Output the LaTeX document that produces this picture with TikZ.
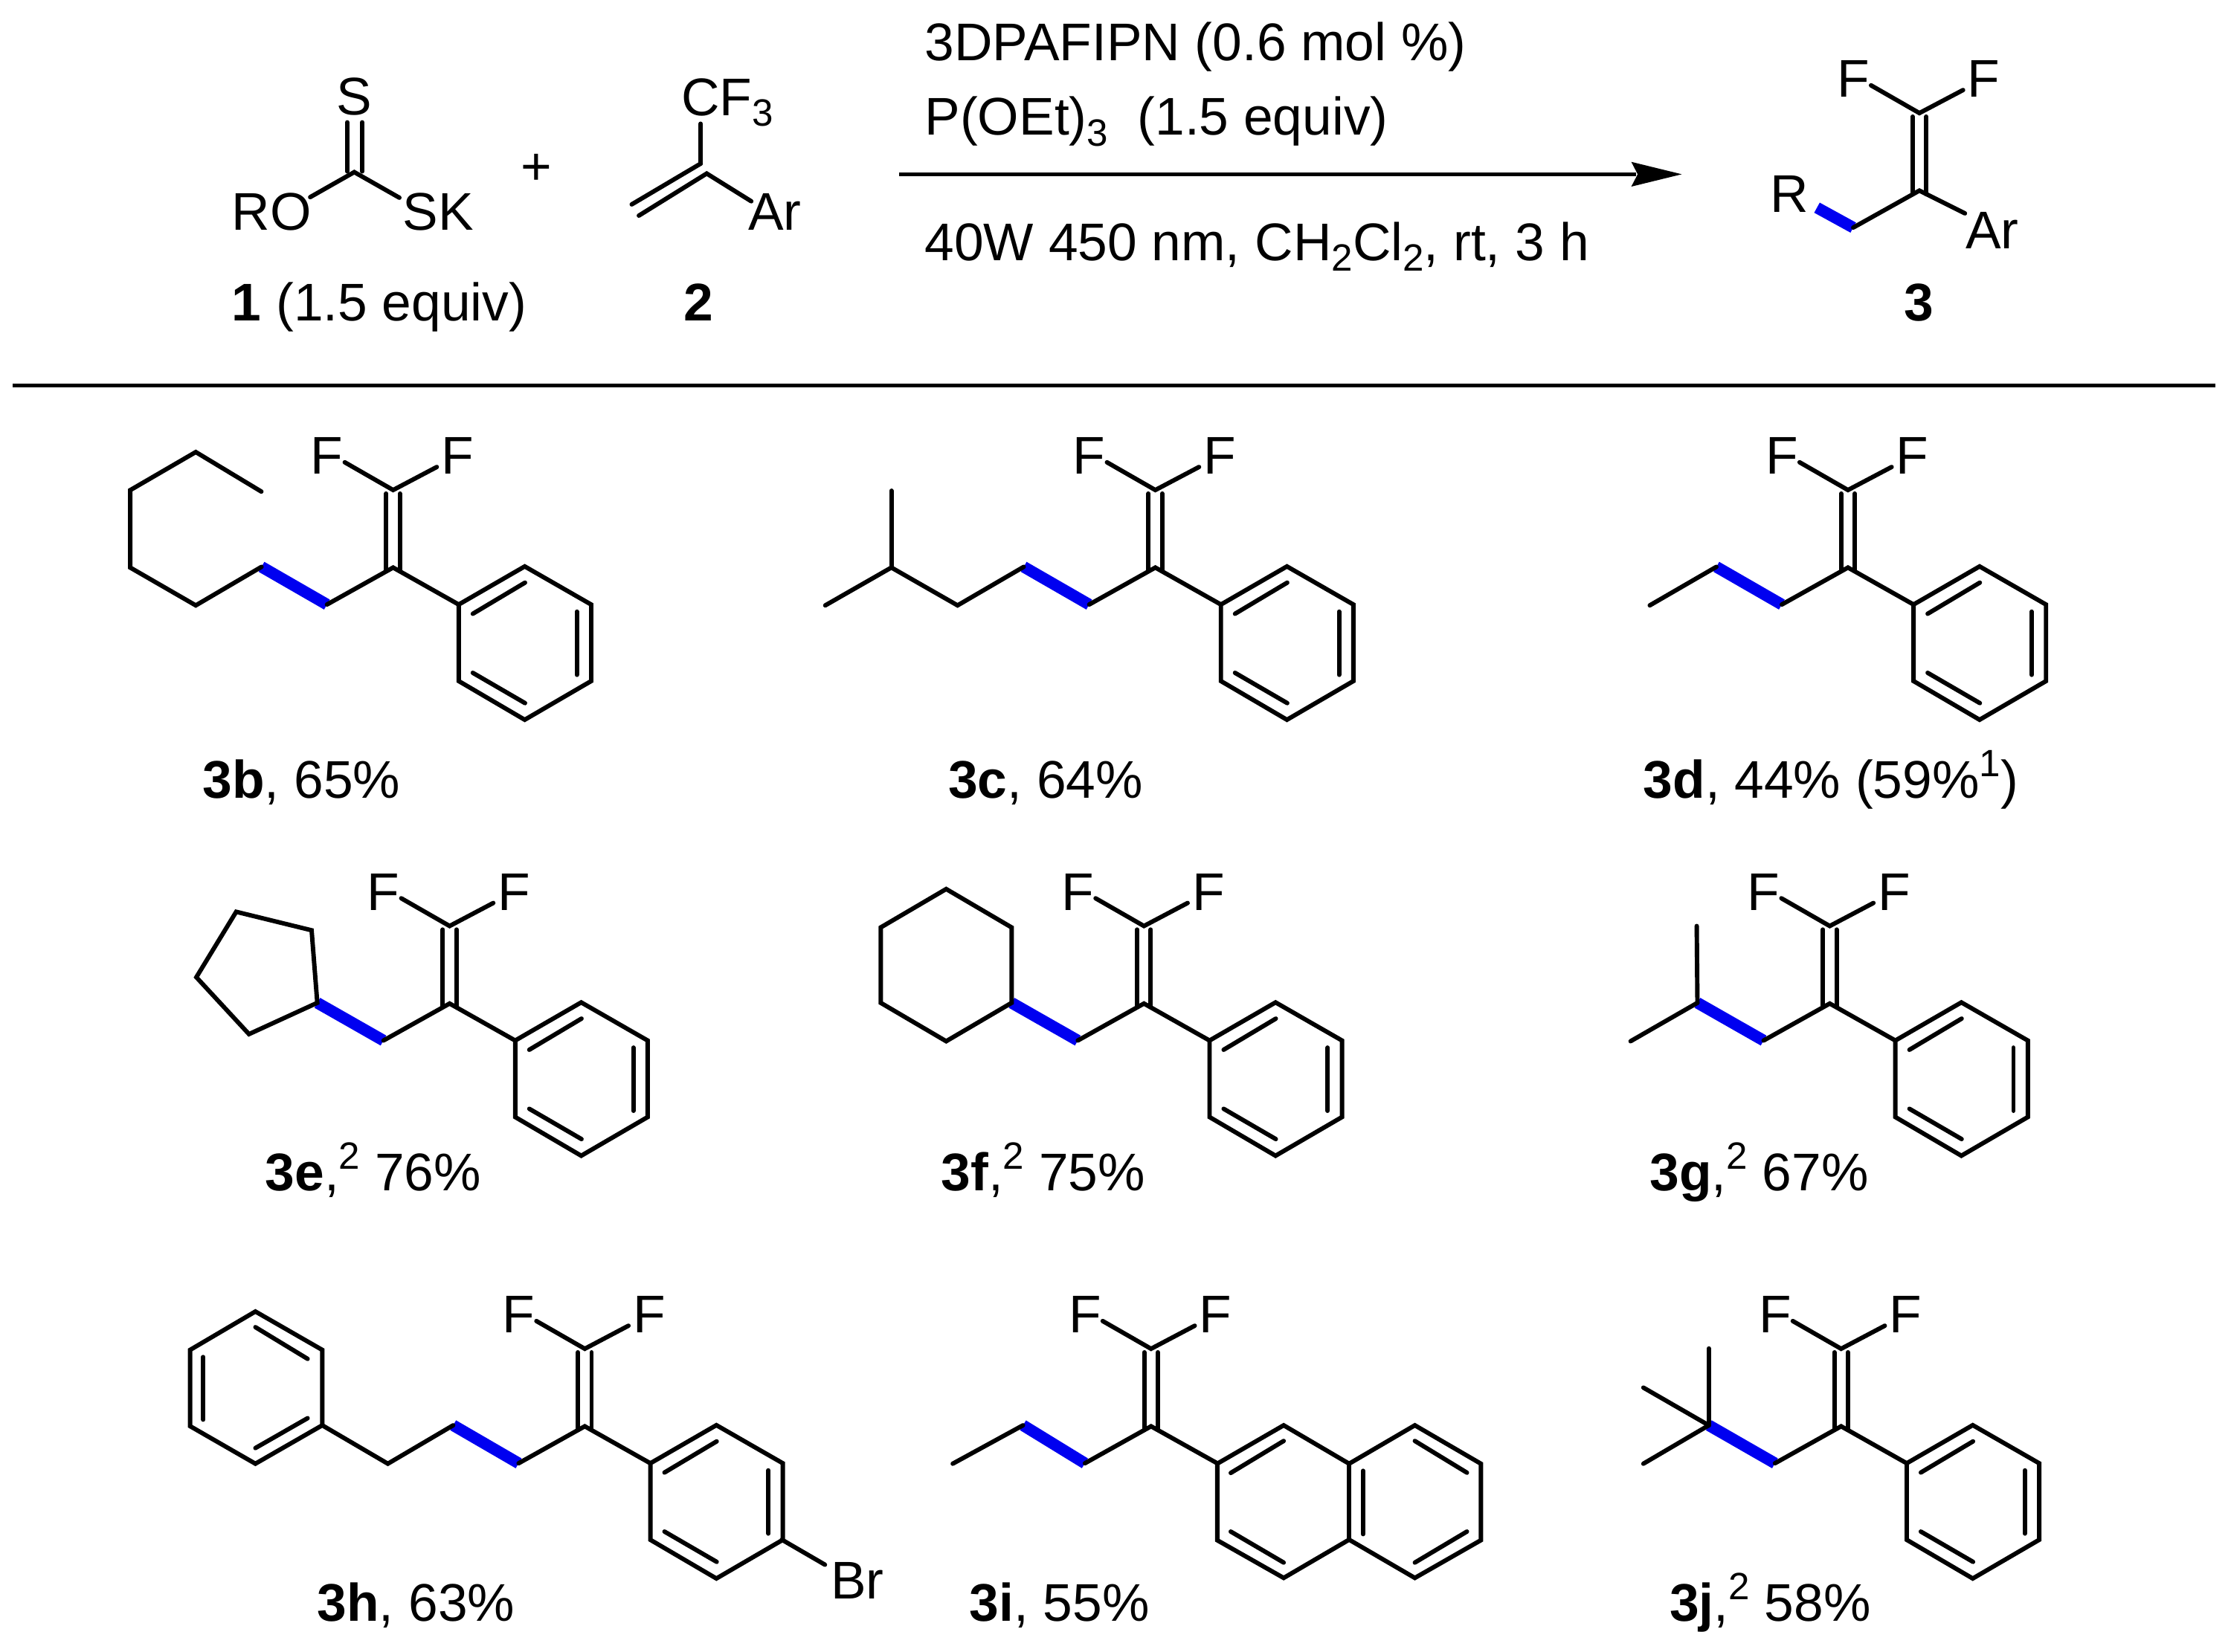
\documentclass[tikz,border=0pt]{standalone}
\usepackage{fontspec}
\setmainfont{Liberation Sans}
\newcommand{\chs}[1]{\raisebox{-0.2em}{\fontsize{7.6}{9}\selectfont #1}}
\newcommand{\chp}[1]{\raisebox{0.4em}{\fontsize{7.6}{9}\selectfont #1}}
\tikzset{
  bond/.style={draw=black,line width=0.88pt,line cap=round,miter limit=4},
  blueb/.style={draw=newblue,line width=2.3pt,line cap=butt},
  lbl/.style={anchor=base west,inner sep=0pt,outer sep=0pt,text=black},
  atomf/.style={anchor=base,inner sep=0pt,outer sep=0pt,text=black}
}
\definecolor{newblue}{RGB}{0,0,240}
% name, x, y, end of the right-hand bond, end of the blue bond
\newcommand{\cfcore}[5]{%
  \begin{scope}[shift={(#2,#3)}]
    \coordinate (#1c) at (0,0);
    \coordinate (#1t) at (0,-54.5);
    \coordinate (#1w) at (-46.5,26);
    \coordinate (#1n) at (#5);
    \coordinate (#1e) at (#4);
    \node[atomf] (#1fa) at (-46.5,-65.6) {F};
    \node[atomf] (#1fb) at (45.3,-65.6) {F};
    \draw[bond] (-34,-74) -- (#1t) -- (30.7,-70.7);
    \draw[bond] (-4.8,-52) -- (-4.8,2.5);
    \draw[bond] (4.8,-52) -- (4.8,2.5);
    \draw[blueb] (#1w) -- (#1n);
    \draw[bond] (#1w) -- (#1c) -- (#1e);
  \end{scope}}
\newcommand{\phring}[1]{%
  \begin{scope}[shift={(#1c)}]
    \draw[bond] (46.1,26) -- (92.5,-0.8) -- (139.2,26) -- (139.2,79.8) -- (92.5,107) -- (46.1,79.8) -- cycle;
    \draw[bond] (56,32.5) -- (92.7,10.6);
    \draw[bond] (129.1,31) -- (129.1,75.4);
    \draw[bond] (56,74) -- (92.7,95.3);
  \end{scope}}
\begin{document}
\begin{tikzpicture}[x=0.01cm,y=-0.01cm,font=\fontsize{10.6}{12.5}\selectfont]
\useasboundingbox (0,0) rectangle (1568,1161);
\fill[white] (0,0) rectangle (1568,1161);

% ---------- scheme: reagents
\node[lbl] (tS) at (236.5,81) {S};
\node[lbl] (tRO) at (163,161.7) {RO};
\node[lbl] (tSK) at (283,161.7) {SK};
\coordinate (c1) at (249,121);
\draw[bond] (218,138.6) -- (c1) -- (280.7,139);
\draw[bond] (244,86) -- (244,120.5);
\draw[bond] (254.6,86) -- (254.6,120.5);
\node[lbl] (plus) at (366,130) {+};
\node[lbl] (tCF) at (479,81.4) {CF\chs{3}};
\coordinate (c2) at (492.5,120);
\draw[bond] (c2 |- 0,87) -- (492.5,115);
\draw[bond] (492.5,115) -- (444,143.7);
\draw[bond] (449,151.6) -- (496.7,122) -- (528,141.5);
\node[lbl] (tAr) at (526,161.7) {Ar};
\node[lbl] (n1) at (163,225.3) {\textbf{1} (1.5 equiv)};
\node[lbl] (n2) at (480.5,225.3) {\textbf{2}};

% ---------- conditions and arrow
\node[lbl] (cond1) at (650,42.7) {3DPAFIPN (0.6 mol \%)};
\node[lbl] (cond2) at (650,95) {P(OEt)\chs{3}\ \ (1.5 equiv)};
\node[lbl] (cond3) at (650,183.3) {40W 450 nm, CH\chs{2}Cl\chs{2}, rt, 3 h};
\coordinate (aS) at (632,122.5);
\coordinate (aE) at (1150,122.5);
\draw[black,line width=0.72pt] (aS) -- (aE);
\fill[black] (1182,122.5) -- (1146.5,113.8) -- (1151,122.5) -- (1146.5,131.2) -- cycle;

% ---------- product 3
\cfcore{p}{1349}{134}{32,16}{-72,12}
\node[lbl] (pR) at (1244,149) {R};
\node[lbl] (pAr) at (1381.5,175) {Ar};
\node[lbl] (p3) at (1338.5,225.3) {\textbf{3}};

% ---------- rule
\coordinate (rA) at (9,271);
\coordinate (rB) at (1557,271);
\draw[black,line width=0.72pt] (rA) -- (rB);

% ---------- 3b
\cfcore{b}{276.3}{399}{46.1,26}{-92.5,-0.5}
\phring{b}
\draw[bond] (bn) -- (137.6,425.6) -- (91.5,399) -- (91.5,344.6) -- (137.6,317.8) -- (183.7,345.6);
\node[lbl] (tb) at (142.5,561) {\textbf{3b}, 65\%};

% ---------- 3c
\cfcore{g}{812}{399}{46.1,26}{-92.5,-0.5}
\phring{g}
\draw[bond] (gn) -- (673,425.6) -- (626.5,399) -- (580,425.6);
\draw[bond] (626.5,399) -- (626.5,345);
\node[lbl] (tc) at (666.5,561) {\textbf{3c}, 64\%};

% ---------- 3d
\cfcore{d}{1298.8}{399}{46.1,26}{-92.5,-0.5}
\phring{d}
\draw[bond] (dn) -- (1159.5,425.6);
\node[lbl] (td) at (1155,561) {\textbf{3d}, 44\% (59\%\chp{1})};

% ---------- 3e
\cfcore{e}{316}{705.5}{46.1,26}{-93,-0.5}
\phring{e}
\draw[bond] (en) -- (219,654) -- (166,641) -- (138,687) -- (175,727) -- cycle;
\node[lbl] (te) at (186.5,837) {\textbf{3e},\chp{2} 76\%};

% ---------- 3f
\cfcore{f}{804}{705.5}{46.1,26}{-93,-0.5}
\phring{f}
\draw[bond] (fn) -- (711,652) -- (665,625) -- (619,652) -- (619,705) -- (665,732) -- cycle;
\node[lbl] (tf) at (661.5,837) {\textbf{3f},\chp{2} 75\%};

% ---------- 3g
\cfcore{h}{1286}{705.5}{46.1,26}{-93,-0.5}
\phring{h}
\draw[bond] (hn) -- (1146,732);
\draw[bond] (hn) -- (1192.5,651);
\node[lbl] (tg) at (1159.5,837) {\textbf{3g},\chp{2} 67\%};

% ---------- 3h
\cfcore{i}{411}{1002.7}{46.1,26}{-92.5,-0.7}
\phring{i}
\draw[bond] (in) -- (272.6,1029) -- (226.5,1002) -- (226.5,949) -- (179.5,922) -- (133.6,949) -- (133.6,1002.6) -- (179.5,1029) -- (226.5,1002);
\draw[bond] (179.5,933) -- (216.2,955.3);
\draw[bond] (142.9,954) -- (142.9,998);
\draw[bond] (179.5,1018) -- (216.2,997);
\coordinate (brA) at (549.5,1082.4);
\draw[bond] (brA) -- (579.8,1100);
\node[lbl] (tBr) at (584,1124) {Br};
\node[lbl] (th) at (223,1139.5) {\textbf{3h}, 63\%};

% ---------- 3i
\cfcore{j}{809}{1002.7}{46.5,26}{-90,-0.7}
\draw[bond] (855.5,1029) -- (902.2,1002) -- (948.2,1029) -- (994.4,1002) -- (1040.8,1029) -- (1040.8,1082.8) -- (994.4,1109.3) -- (948.2,1082.4) -- (902.2,1109.3) -- (855.5,1082.8) -- cycle;
\draw[bond] (948.2,1029) -- (948.2,1082.4);
\draw[bond] (865,1035.5) -- (902.2,1013);
\draw[bond] (865,1076.7) -- (902.2,1098.5);
\draw[bond] (958,1034) -- (958,1078.5);
\draw[bond] (994.4,1013) -- (1031,1035.3);
\draw[bond] (994.4,1098.5) -- (1031,1076.7);
\draw[bond] (jn) -- (669.6,1029);
\node[lbl] (ti) at (681.5,1139.5) {\textbf{3i}, 55\%};

% ---------- 3j
\cfcore{k}{1294}{1002.7}{46.1,26}{-93,-0.7}
\phring{k}
\draw[bond] (kn) -- (1201,948);
\draw[bond] (kn) -- (1155,975.5);
\draw[bond] (kn) -- (1155,1029);
\node[lbl] (tj) at (1173.5,1139.5) {\textbf{3j},\chp{2} 58\%};
\end{tikzpicture}
\end{document}
